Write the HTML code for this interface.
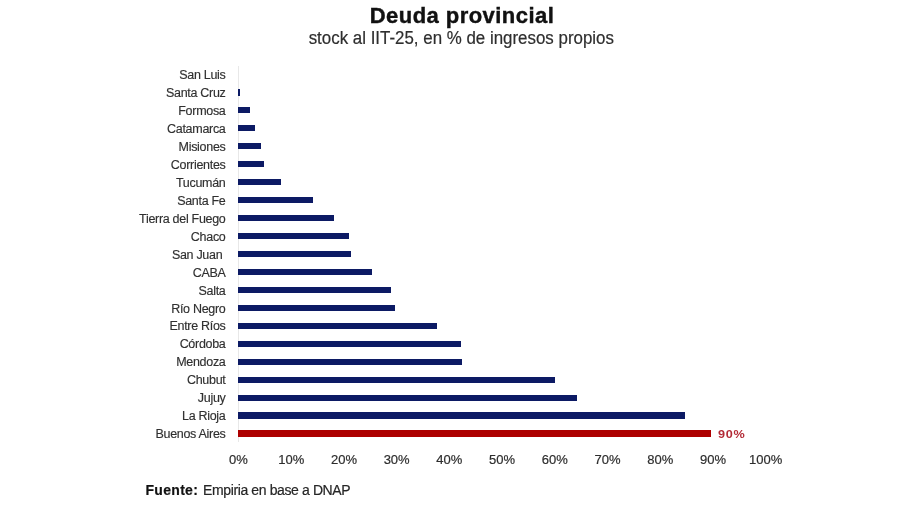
<!DOCTYPE html>
<html><head><meta charset="utf-8">
<style>
html,body{margin:0;padding:0;background:#fff;}
body{width:900px;height:505px;position:relative;overflow:hidden;filter:blur(0.35px);font-family:"Liberation Sans",sans-serif;}
.title{position:absolute;left:162px;width:600px;top:1px;text-align:center;font-weight:bold;font-size:22px;line-height:30px;letter-spacing:0.45px;color:#111;-webkit-text-stroke:0.4px #111;white-space:nowrap;}
.sub{position:absolute;transform:scaleX(0.9387);transform-origin:461.3px 0;left:0px;width:922.6px;top:25.7px;text-align:center;font-size:18px;line-height:24px;letter-spacing:0px;color:#2e2e2e;-webkit-text-stroke:0.2px #2e2e2e;white-space:nowrap;}
.bar{position:absolute;height:6.5px;}
.lab{position:absolute;right:674.5px;font-size:12.5px;letter-spacing:-0.3px;line-height:16px;color:#303030;white-space:pre;-webkit-text-stroke:0.15px #303030;}
.axis{position:absolute;left:237.5px;top:66px;width:1.5px;height:376px;background:#e8e8e8;}
.tick{position:absolute;top:452px;width:60px;text-align:center;font-size:13px;line-height:16px;color:#2e2e2e;-webkit-text-stroke:0.2px #2e2e2e;}
.lbl90{position:absolute;left:718px;top:425.8px;font-size:11.5px;letter-spacing:0.7px;transform:scaleX(1.1);transform-origin:0 0;font-weight:bold;color:#b32a36;line-height:16px;}
.src{position:absolute;left:145.5px;top:479.7px;font-size:14px;letter-spacing:-0.38px;line-height:20px;color:#262626;white-space:nowrap;-webkit-text-stroke:0.2px #262626;}
.src{letter-spacing:0.3px;font-weight:bold;color:#111;}
.src2{position:absolute;left:203px;top:479.7px;font-size:14px;letter-spacing:-0.38px;line-height:20px;color:#262626;white-space:nowrap;-webkit-text-stroke:0.2px #262626;}
</style></head><body>
<div class="title">Deuda provincial</div>
<div class="sub">stock al IIT-25, en % de ingresos propios</div>
<div class="axis"></div>
<div class="lab" style="top:66.90px">San Luis</div>
<div class="bar" style="top:89.02px;left:238.3px;width:2.00px;background:#0c1a64"></div>
<div class="lab" style="top:84.87px">Santa Cruz</div>
<div class="bar" style="top:106.99px;left:238.3px;width:11.50px;background:#0c1a64"></div>
<div class="lab" style="top:102.84px">Formosa</div>
<div class="bar" style="top:124.96px;left:238.3px;width:16.30px;background:#0c1a64"></div>
<div class="lab" style="top:120.81px">Catamarca</div>
<div class="bar" style="top:142.93px;left:238.3px;width:22.30px;background:#0c1a64"></div>
<div class="lab" style="top:138.78px">Misiones</div>
<div class="bar" style="top:160.90px;left:238.3px;width:25.80px;background:#0c1a64"></div>
<div class="lab" style="top:156.75px">Corrientes</div>
<div class="bar" style="top:178.87px;left:238.3px;width:42.40px;background:#0c1a64"></div>
<div class="lab" style="top:174.72px">Tucumán</div>
<div class="bar" style="top:196.84px;left:238.3px;width:74.60px;background:#0c1a64"></div>
<div class="lab" style="top:192.69px">Santa Fe</div>
<div class="bar" style="top:214.81px;left:238.3px;width:95.70px;background:#0c1a64"></div>
<div class="lab" style="top:210.66px">Tierra del Fuego</div>
<div class="bar" style="top:232.78px;left:238.3px;width:111.20px;background:#0c1a64"></div>
<div class="lab" style="top:228.63px">Chaco</div>
<div class="bar" style="top:250.75px;left:238.3px;width:112.30px;background:#0c1a64"></div>
<div class="lab" style="top:246.60px">San Juan </div>
<div class="bar" style="top:268.72px;left:238.3px;width:134.10px;background:#0c1a64"></div>
<div class="lab" style="top:264.57px">CABA</div>
<div class="bar" style="top:286.69px;left:238.3px;width:152.90px;background:#0c1a64"></div>
<div class="lab" style="top:282.54px">Salta</div>
<div class="bar" style="top:304.66px;left:238.3px;width:157.00px;background:#0c1a64"></div>
<div class="lab" style="top:300.51px">Río Negro</div>
<div class="bar" style="top:322.63px;left:238.3px;width:198.60px;background:#0c1a64"></div>
<div class="lab" style="top:318.48px">Entre Ríos</div>
<div class="bar" style="top:340.60px;left:238.3px;width:223.20px;background:#0c1a64"></div>
<div class="lab" style="top:336.45px">Córdoba</div>
<div class="bar" style="top:358.57px;left:238.3px;width:223.60px;background:#0c1a64"></div>
<div class="lab" style="top:354.42px">Mendoza</div>
<div class="bar" style="top:376.54px;left:238.3px;width:316.45px;background:#0c1a64"></div>
<div class="lab" style="top:372.39px">Chubut</div>
<div class="bar" style="top:394.51px;left:238.3px;width:339.00px;background:#0c1a64"></div>
<div class="lab" style="top:390.36px">Jujuy</div>
<div class="bar" style="top:412.48px;left:238.3px;width:447.20px;background:#0c1a64"></div>
<div class="lab" style="top:408.33px">La Rioja</div>
<div class="bar" style="top:430.45px;left:238.3px;width:472.60px;background:#ad0000"></div>
<div class="lab" style="top:426.30px">Buenos Aires</div>
<div class="lbl90">90%</div>
<div class="tick" style="left:208.50px">0%</div>
<div class="tick" style="left:261.22px">10%</div>
<div class="tick" style="left:313.94px">20%</div>
<div class="tick" style="left:366.66px">30%</div>
<div class="tick" style="left:419.38px">40%</div>
<div class="tick" style="left:472.10px">50%</div>
<div class="tick" style="left:524.82px">60%</div>
<div class="tick" style="left:577.54px">70%</div>
<div class="tick" style="left:630.26px">80%</div>
<div class="tick" style="left:682.98px">90%</div>
<div class="tick" style="left:735.70px">100%</div>
<div class="src"><b>Fuente:</b></div><div class="src2">Empiria en base a DNAP</div>
</body></html>
